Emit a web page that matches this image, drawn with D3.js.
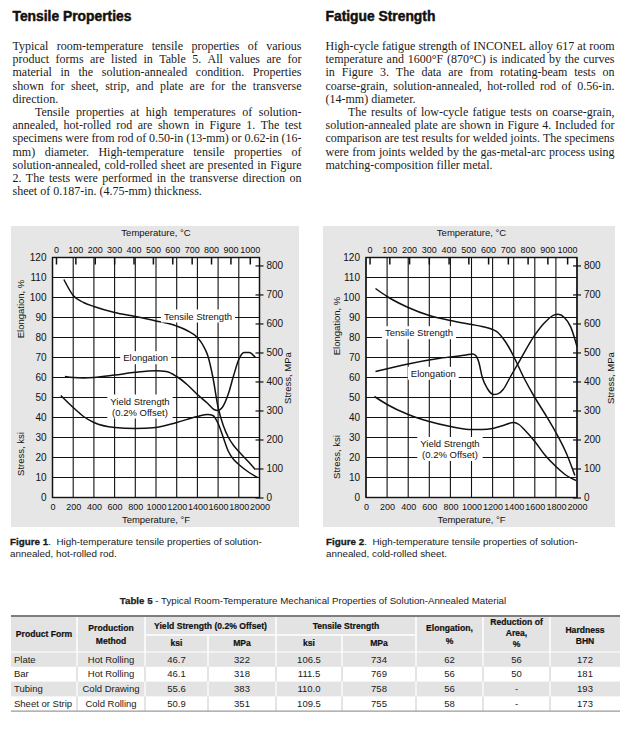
<!DOCTYPE html>
<html><head><meta charset="utf-8">
<script src="https://cdn.jsdelivr.net/npm/d3@7"></script>
<style>html,body{margin:0;padding:0;background:#fff;} svg{display:block;}</style>
</head><body>
<svg id="page" width="626" height="729"></svg>
<script>
// ---------------- DATA ----------------
const tempTicksF = [0,200,400,600,800,1000,1200,1400,1600,1800,2000];
const tempTicksC = [0,100,200,300,400,500,600,700,800,900,1000];
const ksiTicks = [0,10,20,30,40,50,60,70,80,90,100,110,120];
const mpaTicks = [0,100,200,300,400,500,600,700,800];

// Figure 1 – hot-rolled rod (°F, ksi / %)
const fig1TensileF   = [110,200,300,400,600,800,1000,1200,1300,1400,1450,1500,1550,1600,1650,1700,1750,1800,1900,1960];
const fig1TensileKsi = [109,101,97.5,95.5,92.5,90.5,88.3,85.7,83.5,80,76.5,71,60,45,36,30,26,23,17.5,14];
const fig1YieldF     = [80,200,300,400,600,800,1000,1200,1400,1500,1550,1600,1650,1700,1750,1800,1900,1980];
const fig1YieldKsi   = [51,45,40.5,37.5,35,34.5,35,37.5,40.5,41.5,41,37,30,23,19,16.5,12.5,10];
const fig1ElongF     = [120,200,300,400,600,800,1000,1100,1200,1300,1400,1500,1560,1600,1640,1700,1750,1800,1850,1900,1960];
const fig1ElongPct   = [60.5,60,59.8,60,61.2,62.6,63.4,63,60.5,56.5,51.5,47,44,43.5,45,52,61,69,72.5,72.5,70];

// Figure 2 – cold-rolled sheet
const fig2TensileF   = [90,200,400,600,800,1000,1100,1200,1250,1300,1350,1400,1500,1600,1700,1800,1900,1980];
const fig2TensileKsi = [104.5,100.5,95,91,88.5,86.5,85.5,84,82.5,79.5,75.5,70.5,59.5,50,41.5,32.5,22,11];
const fig2YieldF     = [80,200,400,600,800,1000,1100,1200,1300,1400,1450,1500,1600,1700,1800,1900,1990];
const fig2YieldKsi   = [50.5,46.5,41.5,38,35.5,34,34,34.5,36,37.5,36.5,34,28,21,15.5,11,8.5];
const fig2ElongF     = [90,400,700,950,1010,1040,1070,1100,1150,1210,1250,1300,1370,1460,1590,1690,1780,1820,1880,1940,2000];
const fig2ElongPct   = [63,66.8,69.6,71.3,71.8,71,67.5,60.5,54.5,51.5,51.8,54,60.5,68.7,80.4,87.2,91.2,91.6,90,85.3,75.5];

// Table 5
const tableProductForm = ["Plate","Bar","Tubing","Sheet or Strip"];
const tableMethod      = ["Hot Rolling","Hot Rolling","Cold Drawing","Cold Rolling"];
const tableYieldKsi    = ["46.7","46.1","55.6","50.9"];
const tableYieldMpa    = ["322","318","383","351"];
const tableTensileKsi  = ["106.5","111.5","110.0","109.5"];
const tableTensileMpa  = ["734","769","758","755"];
const tableElong       = ["62","56","56","58"];
const tableRoA         = ["56","50","-","-"];
const tableHardness    = ["172","181","193","173"];

// Text
const leftHeading = "Tensile Properties";
const rightHeading = "Fatigue Strength";
const leftLines = [
  ["Typical room-temperature tensile properties of various",1,0],
  ["product forms are listed in Table 5.  All values are for",1,0],
  ["material in the solution-annealed condition.  Properties",1,0],
  ["shown for sheet, strip, and plate are for the transverse",1,0],
  ["direction.",0,0],
  ["Tensile properties at high temperatures of solution-",1,1],
  ["annealed, hot-rolled rod are shown in Figure 1.  The test",1,0],
  ["specimens were from rod of 0.50-in (13-mm) or 0.62-in (16-",1,0],
  ["mm) diameter.  High-temperature tensile properties of",1,0],
  ["solution-annealed, cold-rolled sheet are presented in Figure",1,0],
  ["2.  The tests were performed in the transverse direction on",1,0],
  ["sheet of 0.187-in. (4.75-mm) thickness.",0,0]
];
const rightLines = [
  ["High-cycle fatigue strength of INCONEL alloy 617 at room",1,0],
  ["temperature and 1600°F (870°C) is indicated by the curves",1,0],
  ["in Figure 3.  The data are from rotating-beam tests on",1,0],
  ["coarse-grain, solution-annealed, hot-rolled rod of 0.56-in.",1,0],
  ["(14-mm) diameter.",0,0],
  ["The results of low-cycle fatigue tests on coarse-grain,",1,1],
  ["solution-annealed plate are shown in Figure 4.  Included for",1,0],
  ["comparison are test results for welded joints.  The specimens",1,0],
  ["were from joints welded by the gas-metal-arc process using",1,0],
  ["matching-composition filler metal.",0,0]
];
const captions = [
  ["Figure 1", ".  High-temperature tensile properties of solution-", "annealed, hot-rolled rod."],
  ["Figure 2", ".  High-temperature tensile properties of solution-", "annealed, cold-rolled sheet."]
];

// ---------------- DRAWING ----------------
const SANS = '"Liberation Sans", Arial, Helvetica, sans-serif';
const SERIF = '"Liberation Serif", "Times New Roman", serif';
const svg = d3.select('#page');
svg.append('rect').attr('width',626).attr('height',729).attr('fill','#fff');
const fmt = d3.format('d');

function fit(sel, target){
  const n = sel.node().getComputedTextLength();
  const fs = parseFloat(sel.attr('font-size'));
  sel.attr('font-size', fs*target/n);
}

// headings
[[leftHeading,12.5,119],[rightHeading,325.5,110]].forEach(([t,x,w])=>{
  const s = svg.append('text').attr('x',x).attr('y',21).attr('font-family',SANS)
    .attr('font-weight','bold').attr('font-size',14).attr('fill','#111')
    .attr('stroke','#111').attr('stroke-width',0.45).text(t);
  fit(s,w);
});

// body text, justified line by line
function para(lines, x0, width){
  const fs = 12, lh = 13.2, base = 50;
  lines.forEach(([str, just, indent], i)=>{
    const words = str.split(/\s+/);
    const t = svg.append('text').attr('y', base + i*lh).attr('font-family',SERIF)
      .attr('font-size',fs).attr('fill','#1a1a1a');
    const spans = words.map(w=>t.append('tspan').text(w));
    const widths = spans.map(s=>s.node().getComputedTextLength());
    const sx = x0 + (indent?22.5:0);
    const avail = x0 + width - sx;
    const sum = d3.sum(widths);
    const gap = just ? (avail - sum)/(words.length-1) : fs*0.25;
    let cx = sx;
    spans.forEach((s,j)=>{ s.attr('x',cx); cx += widths[j] + gap; });
  });
}
para(leftLines, 12.5, 289);
para(rightLines, 325.5, 289);

// figures
const figs = [
  { panel:[11,226,288,301], plot:[52.5,259.5,257.5,497.5],
    series:[[fig1TensileF,fig1TensileKsi],[fig1YieldF,fig1YieldKsi],[fig1ElongF,fig1ElongPct]],
    labels:[{lines:["Tensile Strength"],f:1406,k:90.75},{lines:["Elongation"],f:900,k:69.9},
            {lines:["Yield Strength","(0.2% Offset)"],f:845,k:45.5}],
    elongTitleY:309, ksiTitleY:454, leftTitleDx:-32, mpaTitleDx:28, caption:captions[0], capX:10 },
  { panel:[323,226,292,301], plot:[366,577,257.5,497.5],
    series:[[fig2TensileF,fig2TensileKsi],[fig2YieldF,fig2YieldKsi],[fig2ElongF,fig2ElongPct]],
    labels:[{lines:["Tensile Strength"],f:502,k:82.4},{lines:["Elongation"],f:638,k:62.1},
            {lines:["Yield Strength","(0.2% Offset)"],f:796,k:24.25}],
    elongTitleY:326, ksiTitleY:457, leftTitleDx:-29.5, mpaTitleDx:33, caption:captions[1], capX:326 }
];

figs.forEach(cfg=>{
  const [px,py,pw,ph] = cfg.panel;
  const [x0,x1,y0,y1] = cfg.plot;
  const g = svg.append('g').attr('font-family',SANS);
  g.append('rect').attr('x',px).attr('y',py).attr('width',pw).attr('height',ph).attr('fill','#e6e6e6');
  g.append('rect').attr('x',x0).attr('y',y0).attr('width',x1-x0).attr('height',y1-y0).attr('fill','#fff');

  const xF = d3.scaleLinear().domain([0,2000]).range([x0,x1]);
  const xC = d3.scaleLinear().domain([-18,1050]).range([x0,x1]);
  const yK = d3.scaleLinear().domain([0,120]).range([y1,y0]);
  const yM = d3.scaleLinear().domain([0,120*6.895]).range([y1,y0]);

  // grid
  g.append('g').selectAll('line').data(tempTicksF).join('line')
    .attr('x1',d=>xF(d)).attr('x2',d=>xF(d)).attr('y1',y0).attr('y2',y1)
    .attr('stroke','#111').attr('stroke-width',1.1);
  g.append('g').selectAll('line').data(ksiTicks).join('line')
    .attr('y1',d=>yK(d)).attr('y2',d=>yK(d)).attr('x1',x0).attr('x2',x1)
    .attr('stroke','#111').attr('stroke-width',1.1);
  g.append('rect').attr('x',x0).attr('y',y0).attr('width',x1-x0).attr('height',y1-y0)
    .attr('fill','none').attr('stroke','#111').attr('stroke-width',1.4);

  // curves
  const line = d3.line().x(d=>xF(d[0])).y(d=>yK(d[1])).curve(d3.curveMonotoneX);
  cfg.series.forEach(([xs,ys])=>{
    g.append('path').attr('d',line(d3.zip(xs,ys))).attr('fill','none')
      .attr('stroke','#111').attr('stroke-width',1.5);
  });

  // curve labels with white boxes
  cfg.labels.forEach(L=>{
    const cx = xF(L.f), cy = yK(L.k);
    const n = L.lines.length, lh = 11;
    const lg = g.append('g');
    const box = lg.append('rect').attr('fill','#fff');
    let maxW = 0;
    L.lines.forEach((s,i)=>{
      const t = lg.append('text').attr('x',cx).attr('y',cy + (i-(n-1)/2)*lh + 3.5)
        .attr('text-anchor','middle').attr('font-size',9.5).attr('fill','#111').text(s);
      maxW = Math.max(maxW, t.node().getComputedTextLength());
    });
    box.attr('x',cx-maxW/2-3).attr('width',maxW+6)
      .attr('y',cy-n*lh/2-1).attr('height',n*lh+2);
  });

  // axes
  const styleAxis = sel=>{
    sel.select('.domain').remove();
    sel.selectAll('text').attr('font-size',9).attr('fill','#111').attr('font-family',SANS);
  };
  g.append('g').attr('transform',`translate(0,${y0})`)
    .call(d3.axisTop(xC).tickValues(tempTicksC).tickFormat(fmt).tickSize(-7).tickPadding(5))
    .call(styleAxis).call(s=>s.selectAll('line').attr('stroke','#111').attr('stroke-width',1.5));
  g.append('g').attr('transform',`translate(0,${y1})`)
    .call(d3.axisBottom(xF).tickValues(tempTicksF).tickFormat(fmt).tickSize(0).tickPadding(6))
    .call(styleAxis);
  g.append('g').attr('transform',`translate(${x0},0)`)
    .call(d3.axisLeft(yK).tickValues(ksiTicks).tickFormat(fmt).tickSize(0).tickPadding(6))
    .call(styleAxis).call(s=>s.selectAll('text').attr('font-size',10));
  g.append('g').attr('transform',`translate(${x1},0)`)
    .call(d3.axisRight(yM).tickValues(mpaTicks).tickFormat(fmt).tickSize(4).tickPadding(3))
    .call(styleAxis).call(s=>s.selectAll('line').attr('x1',-4).attr('stroke','#111').attr('stroke-width',1.2))
    .call(s=>s.selectAll('text').attr('font-size',10));

  // axis titles
  const mid = (x0+x1)/2;
  g.append('text').attr('x',mid).attr('y',236).attr('text-anchor','middle').attr('font-size',9.5).attr('fill','#111').text('Temperature, °C');
  g.append('text').attr('x',mid).attr('y',522.5).attr('text-anchor','middle').attr('font-size',9.5).attr('fill','#111').text('Temperature, °F');
  const rot = (x,y,t)=>g.append('text').attr('transform',`translate(${x},${y}) rotate(-90)`)
    .attr('text-anchor','middle').attr('font-size',9.5).attr('fill','#111').text(t);
  rot(x0+cfg.leftTitleDx+3.5, cfg.elongTitleY, 'Elongation, %');
  rot(x0+cfg.leftTitleDx+3.5, cfg.ksiTitleY, 'Stress, ksi');
  rot(x1+cfg.mpaTitleDx+3.5, 378, 'Stress, MPa');

  // caption
  const c1 = svg.append('text').attr('x',cfg.capX).attr('y',544.5).attr('font-family',SANS)
    .attr('font-size',9).attr('fill','#1a1a1a');
  c1.append('tspan').attr('font-weight','bold').attr('stroke','#1a1a1a').attr('stroke-width',0.3).text(cfg.caption[0]);
  c1.append('tspan').style('white-space','pre').text(cfg.caption[1]);
  fit(c1, 252);
  const scale = parseFloat(c1.attr('font-size'))/9;
  svg.append('text').attr('x',cfg.capX).attr('y',557).attr('font-family',SANS)
    .attr('font-size',9*scale).attr('fill','#1a1a1a').text(cfg.caption[2]);
});

// ---------------- TABLE ----------------
const tg = svg.append('g').attr('font-family',SANS);
const colB = [11,77,145,208,276,342,416,483,550,620];
const tTop = 616, hMid = 635, hBot = 652, rowH = 14.8;
const rowY = i => hBot + i*rowH;
const tBot = rowY(4);

const tt = tg.append('text').attr('x',313).attr('y',604).attr('text-anchor','middle')
  .attr('font-size',9).attr('fill','#222');
tt.append('tspan').attr('font-weight','bold').attr('stroke','#222').attr('stroke-width',0.25).text('Table 5');
tt.append('tspan').style('white-space','pre').text(' - Typical Room-Temperature Mechanical Properties of Solution-Annealed Material');
fit(tt, 387);

// fills
tg.append('rect').attr('x',colB[0]).attr('y',tTop).attr('width',colB[9]-colB[0]).attr('height',hBot-tTop).attr('fill','#e3e3e3');
[0,2].forEach(i=>tg.append('rect').attr('x',colB[0]).attr('y',rowY(i)).attr('width',colB[9]-colB[0]).attr('height',rowH).attr('fill','#e3e3e3'));
// separators
colB.slice(1,9).forEach((x,ci)=>{
  if (ci!==2 && ci!==4) tg.append('line').attr('x1',x).attr('x2',x).attr('y1',tTop).attr('y2',hBot).attr('stroke','#fff').attr('stroke-width',1.5);
  else tg.append('line').attr('x1',x).attr('x2',x).attr('y1',hMid).attr('y2',hBot).attr('stroke','#fff').attr('stroke-width',1.5);
  for (let r=0;r<4;r++){
    tg.append('line').attr('x1',x).attr('x2',x).attr('y1',rowY(r)).attr('y2',rowY(r)+rowH)
      .attr('stroke', r%2===0 ? '#fff' : '#d2d2d2').attr('stroke-width',1.2);
  }
});
tg.append('line').attr('x1',colB[2]).attr('x2',colB[6]).attr('y1',hMid).attr('y2',hMid).attr('stroke','#fff').attr('stroke-width',1.5);
tg.append('line').attr('x1',colB[0]).attr('x2',colB[9]).attr('y1',hBot).attr('y2',hBot).attr('stroke','#fff').attr('stroke-width',1);
tg.append('line').attr('x1',colB[0]).attr('x2',colB[9]).attr('y1',tTop).attr('y2',tTop).attr('stroke','#7d7d7d').attr('stroke-width',2.2);
tg.append('line').attr('x1',colB[0]).attr('x2',colB[9]).attr('y1',tBot).attr('y2',tBot).attr('stroke','#9a9a9a').attr('stroke-width',1.3);

// header texts
const hdr = (x,y,t)=>tg.append('text').attr('x',x).attr('y',y).attr('text-anchor','middle')
  .attr('font-size',8.6).attr('font-weight','bold').attr('fill','#111').attr('stroke','#111').attr('stroke-width',0.2).text(t);
const cc = i => (colB[i]+colB[i+1])/2;
hdr(cc(0),637,'Product Form');
hdr(cc(1),630.5,'Production'); hdr(cc(1),643.5,'Method');
hdr((colB[2]+colB[4])/2,628.5,'Yield Strength (0.2% Offset)');
hdr((colB[4]+colB[6])/2,628.5,'Tensile Strength');
hdr(cc(2),646,'ksi'); hdr(cc(3),646,'MPa'); hdr(cc(4),646,'ksi'); hdr(cc(5),646,'MPa');
hdr(cc(6),631,'Elongation,'); hdr(cc(6),643.5,'%');
hdr(cc(7),625,'Reduction of'); hdr(cc(7),636,'Area,'); hdr(cc(7),647,'%');
hdr(cc(8),633,'Hardness'); hdr(cc(8),644,'BHN');

// data rows
const cols = [tableProductForm,tableMethod,tableYieldKsi,tableYieldMpa,tableTensileKsi,tableTensileMpa,tableElong,tableRoA,tableHardness];
cols.forEach((arr,ci)=>{
  tg.append('g').selectAll('text').data(arr).join('text')
    .attr('x', ci===0 ? colB[0]+3 : cc(ci))
    .attr('text-anchor', ci===0 ? 'start' : 'middle')
    .attr('y',(d,i)=>rowY(i)+10.6)
    .attr('font-size',9.5).attr('fill','#1a1a1a').text(d=>d);
});
</script>
</body></html>
